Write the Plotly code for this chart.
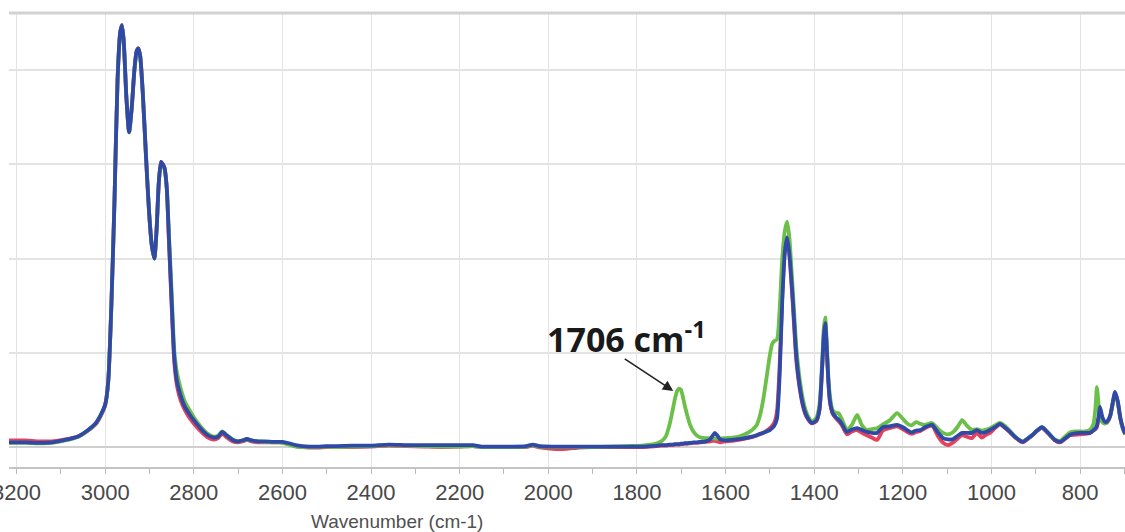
import plotly.graph_objects as go

# ---------------- data ----------------
WN_1 = [3220, 3180, 3150, 3120, 3090,
        3060, 3040, 3020, 3010, 3000,
        2993, 2986, 2979, 2972, 2966,
        2962, 2958, 2952, 2946, 2940,
        2934, 2929, 2925, 2921, 2915,
        2908, 2901, 2895, 2889, 2884,
        2879, 2874, 2870, 2866, 2861,
        2856, 2850, 2844, 2838, 2830,
        2820, 2810, 2800, 2785, 2770,
        2755, 2745, 2736, 2725, 2712,
        2700, 2690, 2680, 2670, 2655,
        2640, 2620, 2600, 2585, 2570,
        2555, 2540, 2520, 2500]
BLUE_1 = [0.010, 0.010, 0.009, 0.010, 0.015,
          0.023, 0.035, 0.052, 0.068, 0.090,
          0.140, 0.300, 0.520, 0.780, 0.880,
          0.895, 0.860, 0.740, 0.668, 0.720,
          0.800, 0.840, 0.846, 0.830, 0.750,
          0.620, 0.500, 0.430, 0.400, 0.460,
          0.560, 0.605, 0.600, 0.592, 0.550,
          0.440, 0.310, 0.190, 0.140, 0.110,
          0.085, 0.070, 0.057, 0.040, 0.026,
          0.020, 0.022, 0.032, 0.024, 0.015,
          0.012, 0.014, 0.017, 0.014, 0.012,
          0.012, 0.011, 0.011, 0.008, 0.004,
          0.002, 0.001, 0.001, 0.002]
RED_1 = [0.014, 0.014, 0.012, 0.012, 0.016,
         0.023, 0.034, 0.050, 0.066, 0.088,
         0.140, 0.300, 0.520, 0.780, 0.880,
         0.895, 0.860, 0.740, 0.668, 0.720,
         0.800, 0.840, 0.846, 0.830, 0.750,
         0.620, 0.500, 0.430, 0.400, 0.460,
         0.560, 0.605, 0.600, 0.592, 0.550,
         0.435, 0.300, 0.180, 0.130, 0.100,
         0.078, 0.062, 0.050, 0.034, 0.021,
         0.016, 0.019, 0.028, 0.020, 0.012,
         0.010, 0.012, 0.015, 0.012, 0.010,
         0.010, 0.010, 0.010, 0.006, 0.002,
         0.000, -0.001, -0.001, 0.000]
GREEN_1 = [0.009, 0.009, 0.008, 0.009, 0.014,
           0.022, 0.034, 0.051, 0.067, 0.090,
           0.140, 0.300, 0.520, 0.780, 0.880,
           0.893, 0.858, 0.740, 0.668, 0.720,
           0.800, 0.838, 0.844, 0.830, 0.750,
           0.620, 0.500, 0.430, 0.400, 0.460,
           0.560, 0.603, 0.598, 0.590, 0.550,
           0.450, 0.330, 0.205, 0.158, 0.126,
           0.096, 0.079, 0.063, 0.044, 0.029,
           0.022, 0.024, 0.033, 0.025, 0.016,
           0.012, 0.014, 0.017, 0.014, 0.012,
           0.011, 0.010, 0.009, 0.005, 0.001,
           0.000, 0.000, 0.000, 0.001]

WN_2 = [2480, 2440, 2400, 2360, 2320, 2280, 2240, 2200, 2170, 2150, 2120,
        2080, 2050, 2035, 2020, 1990, 1960, 1930, 1900, 1860, 1820, 1790]
BLUE_2 = [0.002, 0.003, 0.003, 0.005, 0.004, 0.004, 0.004, 0.004, 0.004, 0.001, 0.001,
          0.001, 0.002, 0.005, 0.002, 0.001, 0.001, 0.001, 0.001, 0.001, 0.001, 0.001]
RED_2 = [0.000, 0.000, 0.001, 0.003, 0.002, 0.001, 0.000, 0.001, 0.002, 0.000, 0.000,
         0.000, 0.000, 0.003, -0.001, -0.004, -0.004, -0.001, 0.000, 0.000, 0.000, 0.000]
GREEN_2 = [0.000, 0.001, 0.002, 0.004, 0.003, 0.002, 0.001, 0.001, 0.002, 0.000, 0.000,
           0.000, 0.001, 0.004, 0.001, 0.000, 0.000, 0.000, 0.000, 0.001, 0.002, 0.003]

WN_3 = [1770, 1755, 1745, 1735, 1727, 1720, 1714, 1709, 1705, 1701,
        1697, 1692, 1686, 1680, 1672, 1664, 1655, 1645, 1635, 1629,
        1624, 1619, 1612, 1600, 1585, 1570, 1556, 1540, 1530, 1522,
        1515, 1507, 1500, 1495, 1490, 1484, 1478, 1472, 1466, 1461,
        1456, 1448, 1440, 1432, 1424, 1416, 1405, 1395, 1388, 1382,
        1378, 1375, 1372, 1368, 1364, 1358, 1350, 1345, 1338, 1326,
        1315, 1303, 1292, 1281, 1270, 1258, 1245, 1230, 1213, 1200,
        1190, 1180, 1170, 1160, 1150, 1134, 1120, 1109, 1098, 1086,
        1076, 1066, 1056, 1044, 1033, 1022, 1012, 1003, 992, 981,
        970, 958, 945, 929, 918, 907, 897, 886, 877, 868,
        857, 845, 834, 823, 812, 800, 789, 778, 770, 765,
        762, 758, 755, 749, 743, 738, 732, 727, 721, 715,
        709, 703, 698]
BLUE_3 = [0.002, 0.003, 0.004, 0.004, 0.005, 0.005, 0.006, 0.006, 0.006, 0.007,
          0.007, 0.008, 0.008, 0.009, 0.010, 0.010, 0.011, 0.012, 0.016, 0.024,
          0.030, 0.025, 0.016, 0.014, 0.015, 0.017, 0.019, 0.022, 0.025, 0.028,
          0.030, 0.033, 0.036, 0.040, 0.045, 0.060, 0.150, 0.310, 0.415, 0.445,
          0.410, 0.310, 0.190, 0.125, 0.085, 0.064, 0.051, 0.056, 0.080, 0.170,
          0.240, 0.263, 0.220, 0.140, 0.095, 0.072, 0.062, 0.058, 0.050, 0.032,
          0.037, 0.040, 0.036, 0.032, 0.030, 0.030, 0.042, 0.044, 0.047, 0.042,
          0.036, 0.031, 0.035, 0.036, 0.042, 0.047, 0.030, 0.019, 0.016, 0.017,
          0.024, 0.030, 0.030, 0.030, 0.036, 0.030, 0.032, 0.036, 0.042, 0.049,
          0.042, 0.032, 0.020, 0.011, 0.018, 0.026, 0.035, 0.042, 0.035, 0.026,
          0.015, 0.011, 0.018, 0.026, 0.029, 0.030, 0.030, 0.030, 0.035, 0.040,
          0.045, 0.065, 0.085, 0.062, 0.053, 0.055, 0.066, 0.090, 0.117, 0.098,
          0.062, 0.040, 0.028]
RED_3 = [0.001, 0.002, 0.003, 0.003, 0.004, 0.004, 0.005, 0.005, 0.005, 0.006,
         0.006, 0.007, 0.007, 0.008, 0.009, 0.009, 0.010, 0.011, 0.012, 0.013,
         0.013, 0.012, 0.010, 0.012, 0.013, 0.015, 0.018, 0.021, 0.024, 0.027,
         0.030, 0.035, 0.040, 0.045, 0.052, 0.075, 0.170, 0.320, 0.420, 0.445,
         0.410, 0.300, 0.180, 0.120, 0.082, 0.062, 0.050, 0.055, 0.078, 0.165,
         0.235, 0.260, 0.215, 0.140, 0.093, 0.070, 0.060, 0.055, 0.047, 0.027,
         0.033, 0.036, 0.030, 0.025, 0.020, 0.015, 0.035, 0.040, 0.044, 0.038,
         0.032, 0.028, 0.032, 0.034, 0.040, 0.045, 0.022, 0.009, 0.004, 0.010,
         0.018, 0.025, 0.022, 0.019, 0.030, 0.020, 0.026, 0.030, 0.040, 0.048,
         0.041, 0.031, 0.019, 0.010, 0.017, 0.025, 0.034, 0.041, 0.034, 0.025,
         0.014, 0.010, 0.017, 0.025, 0.026, 0.027, 0.028, 0.029, 0.035, 0.038,
         0.042, 0.060, 0.075, 0.058, 0.050, 0.053, 0.065, 0.088, 0.113, 0.096,
         0.060, 0.038, 0.027]
GREEN_3 = [0.005, 0.008, 0.012, 0.022, 0.045, 0.075, 0.103, 0.119, 0.124, 0.122,
           0.110, 0.088, 0.066, 0.047, 0.032, 0.024, 0.020, 0.019, 0.019, 0.019,
           0.018, 0.018, 0.018, 0.019, 0.020, 0.022, 0.027, 0.036, 0.046, 0.068,
           0.100, 0.150, 0.195, 0.218, 0.225, 0.228, 0.290, 0.400, 0.460, 0.478,
           0.445, 0.330, 0.210, 0.140, 0.095, 0.070, 0.054, 0.062, 0.090, 0.180,
           0.255, 0.275, 0.230, 0.150, 0.105, 0.078, 0.072, 0.072, 0.060, 0.037,
           0.047, 0.068, 0.046, 0.036, 0.038, 0.040, 0.048, 0.056, 0.072, 0.060,
           0.050, 0.046, 0.053, 0.049, 0.047, 0.051, 0.038, 0.030, 0.027, 0.032,
           0.043, 0.057, 0.046, 0.036, 0.038, 0.035, 0.037, 0.040, 0.046, 0.051,
           0.045, 0.034, 0.021, 0.012, 0.018, 0.026, 0.035, 0.042, 0.035, 0.026,
           0.016, 0.013, 0.022, 0.031, 0.033, 0.033, 0.033, 0.036, 0.048, 0.085,
           0.127, 0.090, 0.062, 0.052, 0.050, 0.054, 0.066, 0.088, 0.113, 0.096,
           0.060, 0.038, 0.027]

X_TICKS = [3200, 3000, 2800, 2600, 2400, 2200, 2000, 1800, 1600, 1400, 1200, 1000, 800]
X_TITLE = "Wavenumber (cm-1)"
PEAK_LABEL = "<b>1706 cm<sup>-1</sup></b>"

wavenumber = WN_1 + WN_2 + WN_3
series = [
    ("red", RED_1 + RED_2 + RED_3, "#e6405c"),
    ("green", GREEN_1 + GREEN_2 + GREEN_3, "#6cc04a"),
    ("blue", BLUE_1 + BLUE_2 + BLUE_3, "#2f4aa6"),
]
for _, vals, _c in series:
    assert len(vals) == len(wavenumber)

fig = go.Figure()
for name, vals, color in series:
    fig.add_trace(go.Scatter(
        x=wavenumber, y=vals, mode="lines", name=name,
        line=dict(color=color, width=3.8, shape="spline", smoothing=0.6),
        showlegend=False, hoverinfo="skip",
    ))

narrow = "Liberation Sans Narrow, Arial Narrow, Liberation Sans, sans-serif"
tick_font = dict(family=narrow, size=22, color="#484848")

fig.update_layout(
    width=1125, height=532,
    margin=dict(l=9, r=0, t=13, b=65, autoexpand=False),
    paper_bgcolor="white", plot_bgcolor="white",
    xaxis=dict(
        range=[3217, 698.5], automargin=False,
        tickmode="array", tickvals=X_TICKS, ticktext=[str(t) for t in X_TICKS],
        tickfont=tick_font, ticklabeloverflow="allow",
        ticks="outside", ticklen=5, tickcolor="#b8b8b8", tickwidth=1,
        minor=dict(dtick=100, tick0=0, ticks="outside", ticklen=5,
                   tickcolor="#b8b8b8", showgrid=False),
        showgrid=True, gridcolor="#e3e3e3", gridwidth=1,
        showline=True, linecolor="#c4c4c4", linewidth=1.5,
        zeroline=False,
    ),
    yaxis=dict(
        range=[-0.0424, 0.921], automargin=False,
        dtick=0.2, tick0=0,
        showticklabels=False, ticks="",
        showgrid=True, gridcolor="#e3e3e3", gridwidth=1.5,
        zeroline=True, zerolinecolor="#cfcfcf", zerolinewidth=2,
        showline=False,
    ),
    shapes=[dict(type="line", xref="paper", yref="paper", x0=0, x1=1, y0=1, y1=1,
                 line=dict(color="#d2d2d2", width=3))],
    annotations=[
        dict(x=1718, y=0.119, xref="x", yref="y", text="", showarrow=True,
             ax=-50, ay=-33, arrowhead=2, arrowsize=1.3, arrowwidth=1.6,
             arrowcolor="#222222"),
        dict(x=1823, y=0.232, xref="x", yref="y", text=PEAK_LABEL, showarrow=False,
             xanchor="center", yanchor="middle",
             font=dict(family="Open Sans, sans-serif", size=34, color="#1a1a1a")),
        dict(x=2341, y=-0.119, xref="x", yref="paper", text=X_TITLE, showarrow=False,
             xanchor="center", yanchor="middle",
             font=dict(family=narrow, size=19, color="#505050")),
    ],
)

fig.write_html("out.html")
